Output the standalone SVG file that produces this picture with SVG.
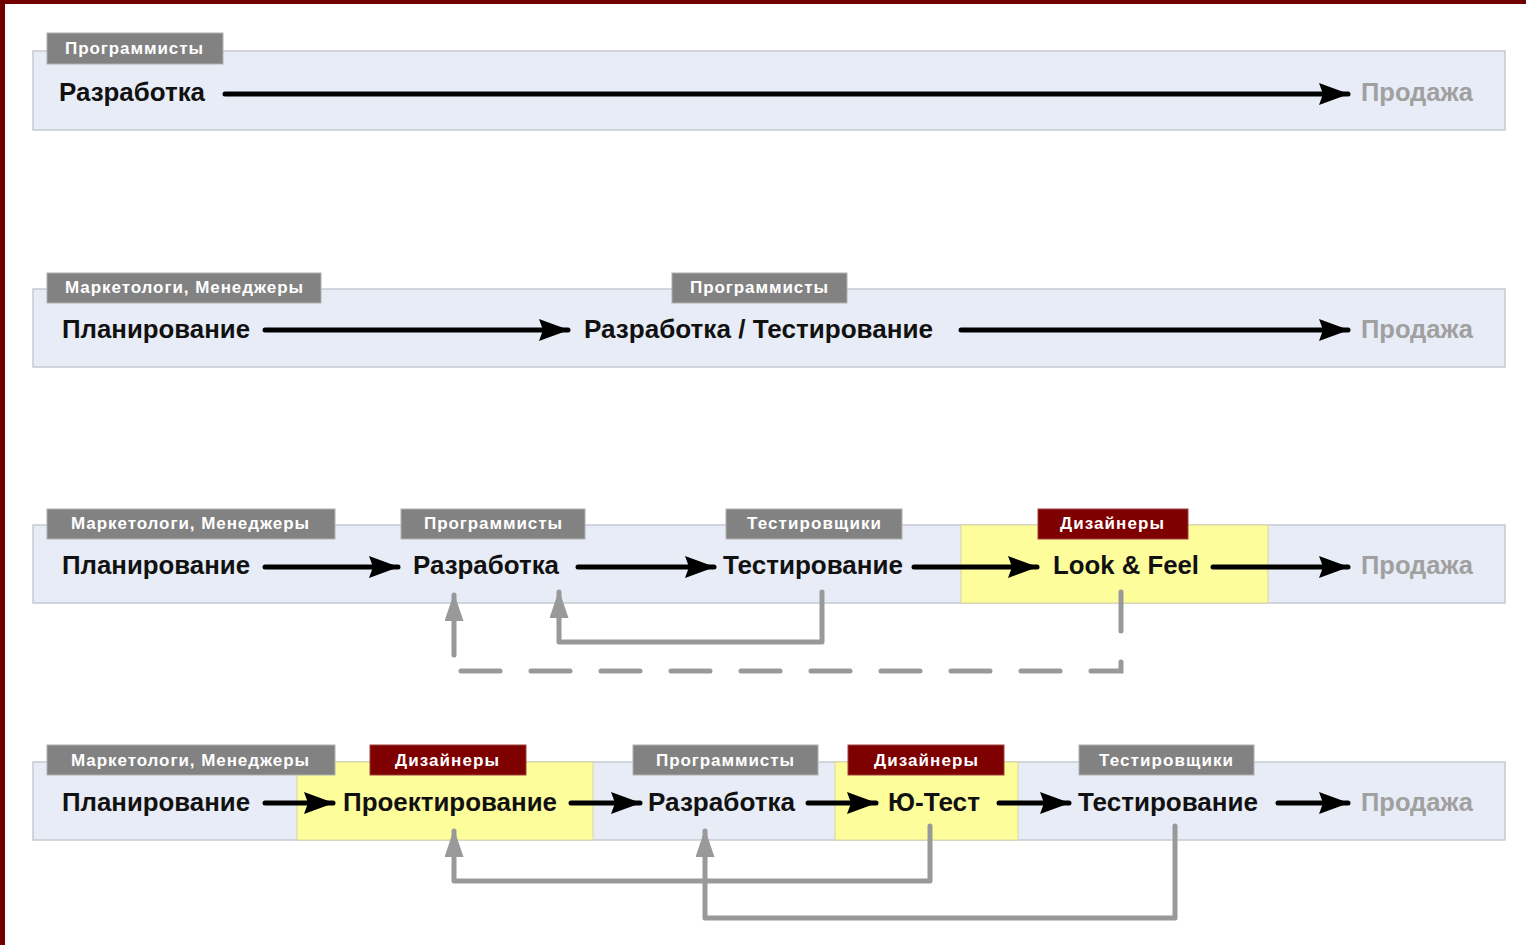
<svg xmlns="http://www.w3.org/2000/svg" width="1526" height="945" viewBox="0 0 1526 945">
<defs>
<style>
.lane{fill:#e7ecf6;stroke:#c6cad2;stroke-width:1.5}
.hl{fill:#fdfd9c;stroke:#d8d8a0;stroke-width:1}
.tag{fill:#828282;stroke:#b0b0b0;stroke-width:1}
.tagr{fill:#7f0000;stroke:#a04040;stroke-width:1}
.tt{font-family:"Liberation Sans",Arial,sans-serif;font-weight:bold;font-size:17px;fill:#ffffff}
.st{font-family:"Liberation Sans",Arial,sans-serif;font-weight:bold;font-size:25px;fill:#111111}
.end{font-family:"Liberation Sans",Arial,sans-serif;font-weight:bold;font-size:25px;fill:#a0a0a0}
.fw{stroke:#000;stroke-width:5;fill:none;stroke-linecap:round;marker-end:url(#ah)}
.bk{stroke:#999;stroke-width:5;fill:none;stroke-linejoin:round;stroke-linecap:round;marker-end:url(#gh)}
.dash{stroke:#999;stroke-width:5;fill:none;stroke-linecap:round;stroke-dasharray:39 31}
</style>
<marker id="ah" markerWidth="30" markerHeight="22" refX="29" refY="11" orient="auto" markerUnits="userSpaceOnUse">
<path d="M0,0 L30,11 L0,22 L4,11 Z" fill="#000"/>
</marker>
<marker id="gh" markerWidth="28" markerHeight="19" refX="26" refY="9.5" orient="auto" markerUnits="userSpaceOnUse" viewBox="0 0 28 19">
<path d="M0,0 L28,9.5 L0,19 Z" fill="#999"/>
</marker>
</defs>
<rect x="0" y="0" width="1526" height="945" fill="#ffffff"/>
<rect x="0" y="0" width="1526" height="4" fill="#700000"/>
<rect x="0" y="0" width="5" height="945" fill="#700000"/>

<g id="lane1">
<rect class="lane" x="33" y="51" width="1472" height="79"/>
<rect class="tag" x="47" y="33" width="176" height="31"/>
<text class="tt" x="65" y="54" textLength="138" lengthAdjust="spacing">Программисты</text>
<text class="st" x="59" y="101" textLength="146" lengthAdjust="spacingAndGlyphs">Разработка</text>
<text class="end" x="1361" y="101" textLength="112" lengthAdjust="spacingAndGlyphs">Продажа</text>
</g>

<g id="lane2">
<rect class="lane" x="33" y="289" width="1472" height="78"/>
<rect class="tag" x="47" y="273" width="274" height="30"/>
<text class="tt" x="65" y="293" textLength="238" lengthAdjust="spacing">Маркетологи, Менеджеры</text>
<rect class="tag" x="672" y="273" width="175" height="30"/>
<text class="tt" x="690" y="293" textLength="138" lengthAdjust="spacing">Программисты</text>
<text class="st" x="62" y="338" textLength="188" lengthAdjust="spacingAndGlyphs">Планирование</text>
<text class="st" x="584" y="338" textLength="349" lengthAdjust="spacingAndGlyphs">Разработка / Тестирование</text>
<text class="end" x="1361" y="338" textLength="112" lengthAdjust="spacingAndGlyphs">Продажа</text>
</g>

<g id="lane3">
<rect class="lane" x="33" y="525" width="1472" height="78"/>
<rect class="hl" x="961" y="525" width="307" height="78"/>
<rect class="tag" x="47" y="509" width="288" height="30"/>
<text class="tt" x="71" y="529" textLength="238" lengthAdjust="spacing">Маркетологи, Менеджеры</text>
<rect class="tag" x="401" y="509" width="184" height="30"/>
<text class="tt" x="424" y="529" textLength="138" lengthAdjust="spacing">Программисты</text>
<rect class="tag" x="726" y="509" width="176" height="30"/>
<text class="tt" x="747" y="529" textLength="134" lengthAdjust="spacing">Тестировщики</text>
<rect class="tagr" x="1038" y="509" width="150" height="30"/>
<text class="tt" x="1060" y="529" textLength="104" lengthAdjust="spacing">Дизайнеры</text>
<text class="st" x="62" y="574" textLength="188" lengthAdjust="spacingAndGlyphs">Планирование</text>
<text class="st" x="413" y="574" textLength="146" lengthAdjust="spacingAndGlyphs">Разработка</text>
<text class="st" x="723" y="574" textLength="180" lengthAdjust="spacingAndGlyphs">Тестирование</text>
<text class="st" x="1053" y="574" textLength="146" lengthAdjust="spacingAndGlyphs">Look &amp; Feel</text>
<text class="end" x="1361" y="574" textLength="112" lengthAdjust="spacingAndGlyphs">Продажа</text>
</g>

<g id="lane4">
<rect class="lane" x="33" y="762" width="1472" height="78"/>
<rect class="hl" x="297" y="762" width="296" height="78"/>
<rect class="hl" x="835" y="762" width="183" height="78"/>
<rect class="tag" x="47" y="745" width="288" height="30"/>
<text class="tt" x="71" y="766" textLength="238" lengthAdjust="spacing">Маркетологи, Менеджеры</text>
<rect class="tagr" x="370" y="745" width="156" height="30"/>
<text class="tt" x="395" y="766" textLength="104" lengthAdjust="spacing">Дизайнеры</text>
<rect class="tag" x="633" y="745" width="185" height="30"/>
<text class="tt" x="656" y="766" textLength="138" lengthAdjust="spacing">Программисты</text>
<rect class="tagr" x="848" y="745" width="156" height="30"/>
<text class="tt" x="874" y="766" textLength="104" lengthAdjust="spacing">Дизайнеры</text>
<rect class="tag" x="1079" y="745" width="175" height="30"/>
<text class="tt" x="1099" y="766" textLength="134" lengthAdjust="spacing">Тестировщики</text>
<text class="st" x="62" y="811" textLength="188" lengthAdjust="spacingAndGlyphs">Планирование</text>
<text class="st" x="343" y="811" textLength="214" lengthAdjust="spacingAndGlyphs">Проектирование</text>
<text class="st" x="648" y="811" textLength="147" lengthAdjust="spacingAndGlyphs">Разработка</text>
<text class="st" x="888" y="811" textLength="92" lengthAdjust="spacingAndGlyphs">Ю-Тест</text>
<text class="st" x="1078" y="811" textLength="180" lengthAdjust="spacingAndGlyphs">Тестирование</text>
<text class="end" x="1361" y="811" textLength="112" lengthAdjust="spacingAndGlyphs">Продажа</text>
</g>

<g id="connectors">
<line class="fw" x1="225" y1="94" x2="1348" y2="94"/>
<line class="fw" x1="265" y1="330" x2="568" y2="330"/>
<line class="fw" x1="961" y1="330" x2="1348" y2="330"/>
<line class="fw" x1="265" y1="567" x2="398" y2="567"/>
<line class="fw" x1="578" y1="567" x2="714" y2="567"/>
<line class="fw" x1="914" y1="567" x2="1037" y2="567"/>
<line class="fw" x1="1213" y1="567" x2="1348" y2="567"/>
<line class="fw" x1="265" y1="803" x2="333" y2="803"/>
<line class="fw" x1="571" y1="803" x2="640" y2="803"/>
<line class="fw" x1="808" y1="803" x2="876" y2="803"/>
<line class="fw" x1="999" y1="803" x2="1069" y2="803"/>
<line class="fw" x1="1278" y1="803" x2="1348" y2="803"/>
<path class="bk" d="M822,592 L822,642 L559,642 L559,592"/>
<path class="dash" d="M1121,592 L1121,671 L458,671"/>
<line class="bk" x1="454" y1="655" x2="454" y2="595"/>
<path class="bk" d="M930,826 L930,881 L454,881 L454,831"/>
<path class="bk" d="M1175,826 L1175,918 L705,918 L705,831"/>
</g>
</svg>
